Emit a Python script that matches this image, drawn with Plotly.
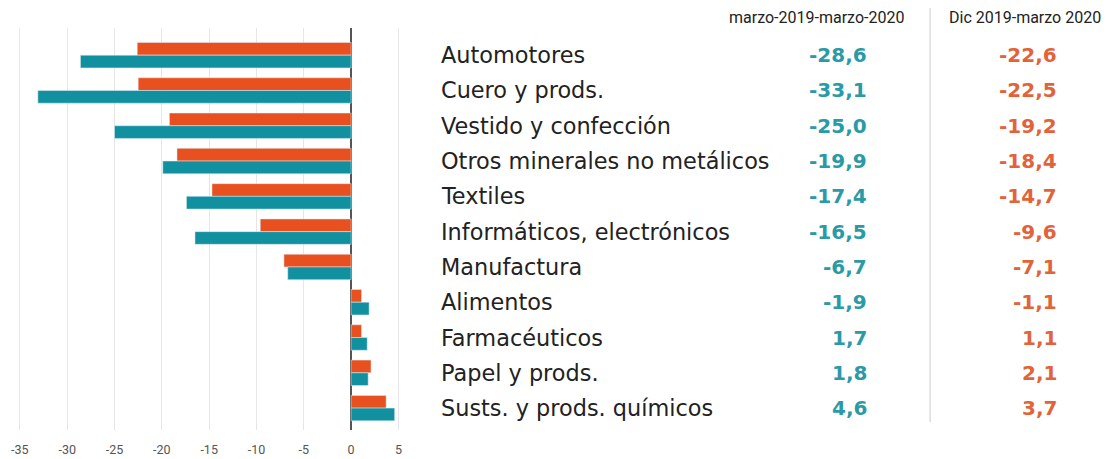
import plotly.graph_objects as go

categories = ["Automotores", "Cuero y prods.", "Vestido y confección",
              "Otros minerales no metálicos", "Textiles", "Informáticos, electrónicos",
              "Manufactura", "Alimentos", "Farmacéuticos", "Papel y prods.",
              "Susts. y prods. químicos"]
# bar lengths as drawn
anual = [-28.6, -33.1, -25.0, -19.9, -17.4, -16.5, -6.7, 1.9, 1.7, 1.8, 4.6]
trimestre = [-22.6, -22.5, -19.2, -18.4, -14.7, -9.6, -7.1, 1.1, 1.1, 2.1, 3.7]
# value labels as printed
anual_labels = ["-28,6", "-33,1", "-25,0", "-19,9", "-17,4", "-16,5", "-6,7", "-1,9", "1,7", "1,8", "4,6"]
trimestre_labels = ["-22,6", "-22,5", "-19,2", "-18,4", "-14,7", "-9,6", "-7,1", "-1,1", "1,1", "2,1", "3,7"]
headers = ["marzo-2019-marzo-2020", "Dic 2019-marzo 2020"]
x_ticks = [-35, -30, -25, -20, -15, -10, -5, 0, 5]

ORANGE = "#E8501F"
TEAL = "#11919F"
TEAL_TXT = "#2A9AA6"
ORANGE_TXT = "#E2633A"

W, H = 1112, 459
def px(x):
    return x / W
def py(y):
    return 1 - y / H

fig = go.Figure()
fig.add_trace(go.Bar(y=categories, x=trimestre, orientation="h", marker_color=ORANGE,
                     name=headers[1], showlegend=False))
fig.add_trace(go.Bar(y=categories, x=anual, orientation="h", marker_color=TEAL,
                     name=headers[0], showlegend=False))

FONT = "DejaVu Sans"
ann = []
for i, c in enumerate(categories):
    ann.append(dict(x=px(436), xref="paper", y=c, yref="y", text=c, showarrow=False,
                    xanchor="left", yanchor="middle",
                    font=dict(family=FONT, size=22.4, color="#222222")))
    ann.append(dict(x=px(868), xref="paper", y=c, yref="y", text="<b>%s</b>" % anual_labels[i],
                    showarrow=False, xanchor="right", yanchor="middle",
                    font=dict(family=FONT, size=20, color=TEAL_TXT)))
    ann.append(dict(x=px(1060), xref="paper", y=c, yref="y", text="<b>%s</b>" % trimestre_labels[i],
                    showarrow=False, xanchor="right", yanchor="middle",
                    font=dict(family=FONT, size=20, color=ORANGE_TXT)))
ann.append(dict(x=px(816), xref="paper", y=py(18), yref="paper", text=headers[0], showarrow=False,
                xanchor="center", yanchor="middle", font=dict(family="Roboto", size=16, color="#222222")))
ann.append(dict(x=px(1025), xref="paper", y=py(18), yref="paper", text=headers[1], showarrow=False,
                xanchor="center", yanchor="middle", font=dict(family="Roboto", size=16, color="#222222")))

fig.update_layout(
    width=W, height=H,
    margin=dict(l=0, r=0, t=0, b=0),
    paper_bgcolor="white", plot_bgcolor="white",
    barmode="group", bargap=0.28, bargroupgap=0,
    annotations=ann,
    shapes=[dict(type="line", xref="paper", yref="paper", x0=px(930), x1=px(930),
                 y0=py(8), y1=py(422), line=dict(color="#dddddd", width=1.5))],
    xaxis=dict(domain=[px(11.1), px(397.8)], range=[-35.3, 5.3], tickvals=x_ticks,
               ticktext=[str(v) for v in x_ticks], showgrid=True, gridcolor="#e6e6e6", gridwidth=1,
               zeroline=True, zerolinecolor="#555555", zerolinewidth=1.5,
               tickfont=dict(family="Roboto", size=12.5, color="#555555"), ticks="", showline=False,
               ticklabelstandoff=10),
    yaxis=dict(domain=[py(430), py(28)], categoryorder="array", categoryarray=categories,
               range=[10.62, -0.77], showticklabels=False, showgrid=False, zeroline=False),
)
fig.write_html("out.html", config={"displayModeBar": False},
               post_script="document.body.style.margin='0';document.body.style.overflow='hidden';")
